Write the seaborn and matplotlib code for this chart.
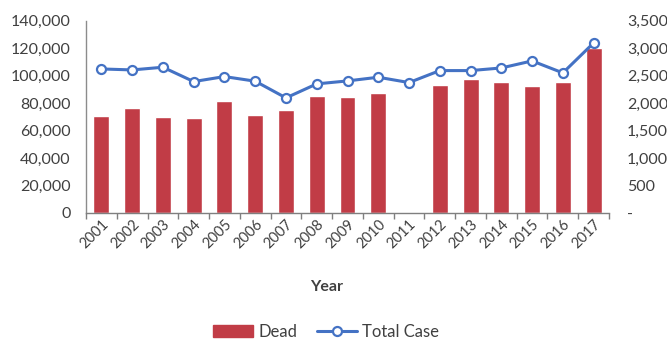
import numpy as np
import pandas as pd
import matplotlib
matplotlib.use("Agg")
import matplotlib.pyplot as plt
import seaborn as sns
from matplotlib.ticker import FuncFormatter, FixedLocator
from matplotlib.patches import Patch
from matplotlib.lines import Line2D

years = ["2001", "2002", "2003", "2004", "2005", "2006", "2007", "2008", "2009",
         "2010", "2011", "2012", "2013", "2014", "2015", "2016", "2017"]
dead = [70700, 76500, 70000, 69300, 81900, 71700, 75300, 85000, 84700,
        87600, np.nan, 93200, 97600, 95100, 92800, 95600, 120400]
total_case = [2622, 2604, 2653, 2392, 2483, 2399, 2095, 2350, 2404,
              2471, 2374, 2592, 2592, 2640, 2768, 2550, 3095]
left_ticks = [0, 20000, 40000, 60000, 80000, 100000, 120000, 140000]
right_ticks = [0, 500, 1000, 1500, 2000, 2500, 3000, 3500]

df = pd.DataFrame({"Year": years, "Dead": dead, "Total Case": total_case})

sns.set_theme(style="white")
plt.rcParams["font.family"] = ["Lato", "DejaVu Sans"]
txt = "#404040"
bar_color = "#C13C46"
line_color = "#4472C4"

fig = plt.figure(figsize=(6.67, 3.43), dpi=100)
ax = fig.add_axes([86/667, 1-213/343, (609-86)/667, (213-20.7)/343])

sns.barplot(data=df, x="Year", y="Dead", order=years, color=bar_color,
            width=0.52, saturation=1, ax=ax)
ax.set_ylim(0, 140000)
ax.set_xlim(-0.5, len(years)-0.5)

ax2 = ax.twinx()
sns.lineplot(data=df, x="Year", y="Total Case", ax=ax2, color=line_color,
             linewidth=2.2, marker="o", markersize=6.5, markerfacecolor="white",
             markeredgecolor=line_color, markeredgewidth=1.6, sort=False)
ax2.set_ylim(0, 3500)
ax.set_xlim(-0.5, len(years)-0.5)

ax.yaxis.set_major_locator(FixedLocator(left_ticks))
ax.yaxis.set_major_formatter(FuncFormatter(lambda v, p: f"{v:,.0f}"))
ax2.yaxis.set_major_locator(FixedLocator(right_ticks))
ax2.yaxis.set_major_formatter(FuncFormatter(lambda v, p: "-" if v == 0 else f"{v:,.0f}"))

for a in (ax, ax2):
    for s in ["top", "right", "left", "bottom"]:
        a.spines[s].set_visible(False)
ax.spines["left"].set_visible(True)
ax.spines["left"].set_color("#8C8C8C")
ax.spines["left"].set_linewidth(1.0)
ax.spines["bottom"].set_visible(True)
ax.spines["bottom"].set_color("#7F7F7F")
ax.spines["bottom"].set_linewidth(1.0)

ax.tick_params(axis="y", length=0, pad=11, labelsize=11.5, labelcolor=txt)
ax2.tick_params(axis="y", length=0, pad=13, labelsize=11.5, labelcolor=txt)
for lab in ax2.get_yticklabels():
    lab.set_horizontalalignment("left")

ax.set_xticks(np.arange(-0.5, len(years), 1.0), minor=True)
ax.tick_params(axis="x", which="minor", length=4, width=1, color="#7F7F7F", bottom=True)
ax.tick_params(axis="x", which="major", length=0, pad=3, labelsize=10.5, labelcolor=txt)
for lab in ax.get_xticklabels():
    lab.set_rotation(45)
    lab.set_ha("right")
    lab.set_rotation_mode("anchor")

ax.set_ylabel("")
ax2.set_ylabel("")
ax.set_xlabel("Year", fontsize=11.5, fontweight="bold", color=txt)
ax.xaxis.set_label_coords((327-86)/523, -0.35)
ax.grid(False)
ax2.grid(False)
if ax2.get_legend():
    ax2.get_legend().remove()

handles = [Patch(facecolor=bar_color, edgecolor=bar_color),
           Line2D([0], [0], color=line_color, linewidth=2.2, marker="o",
                  markersize=6.5, markerfacecolor="white", markeredgecolor=line_color,
                  markeredgewidth=1.6)]
fig.legend(handles, ["Dead", "Total Case"], loc="center", bbox_to_anchor=(326/667, 1-332/343),
           ncol=2, frameon=False, fontsize=12, handlelength=2.4, handletextpad=0.3,
           columnspacing=1.2, labelcolor=txt)

fig.savefig("out.png", dpi=100)
